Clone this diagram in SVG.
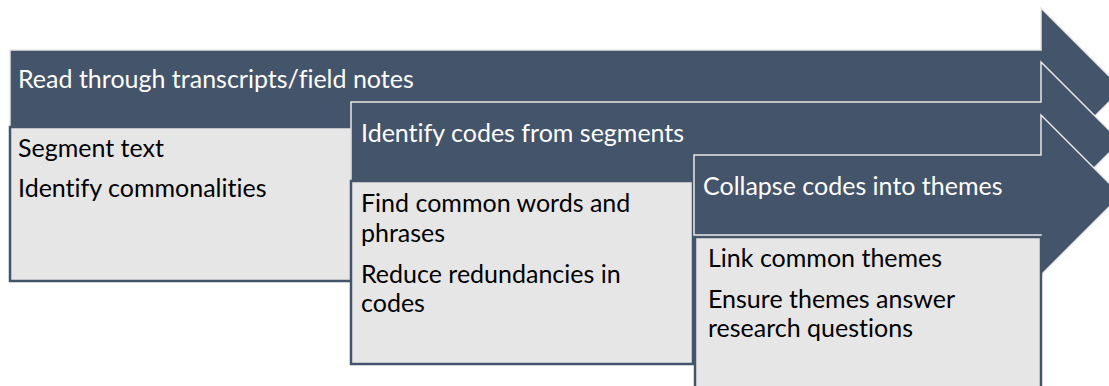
<svg xmlns="http://www.w3.org/2000/svg" width="1109" height="386" viewBox="0 0 1109 386">
<style>
.arrow{fill:#44546A;stroke:#E8E8E8;stroke-width:1.5}
.box{fill:#E7E6E6;stroke:#44546A;stroke-width:2.5}
.title,.body{font-family:Lato,"Liberation Sans",sans-serif;font-size:25px;font-variant-ligatures:none;font-feature-settings:"liga" 0,"clig" 0,"dlig" 0}
.title{fill:#FFFFFF}
.body{fill:#000000}
</style>
<rect width="1109" height="386" fill="#FFFFFF"/>
<g id="step1">
<path class="arrow" d="M10,50 H1041 V8 L1122,89 L1041,170 V128 H10 Z"/>
<rect class="box" x="10" y="127" width="342" height="154"/>
<text class="title" x="18" y="88">Read through transcripts/field notes</text>
<text class="body" x="18" y="157">Segment text</text>
<text class="body" x="18" y="197">Identify commonalities</text>
</g>
<g id="step2">
<path class="arrow" d="M351,102 H1041 V62 L1120.5,141.5 L1041,221 V181 H351 Z"/>
<rect class="box" x="351" y="181" width="342" height="183"/>
<text class="title" x="361" y="142">Identify codes from segments</text>
<text class="body" x="361" y="212">Find common words and</text>
<text class="body" x="361" y="242">phrases</text>
<text class="body" x="361" y="283">Reduce redundancies in</text>
<text class="body" x="361" y="312">codes</text>
</g>
<g id="step3">
<path class="arrow" d="M694,155 H1041 V115 L1121,195 L1041,275 V235 H694 Z"/>
<rect class="box" x="695" y="237" width="346" height="183"/>
<text class="title" x="703" y="195">Collapse codes into themes</text>
<text class="body" x="708" y="267">Link common themes</text>
<text class="body" x="708" y="308">Ensure themes answer</text>
<text class="body" x="708" y="337">research questions</text>
</g>
<g id="connectors"></g>
</svg>
